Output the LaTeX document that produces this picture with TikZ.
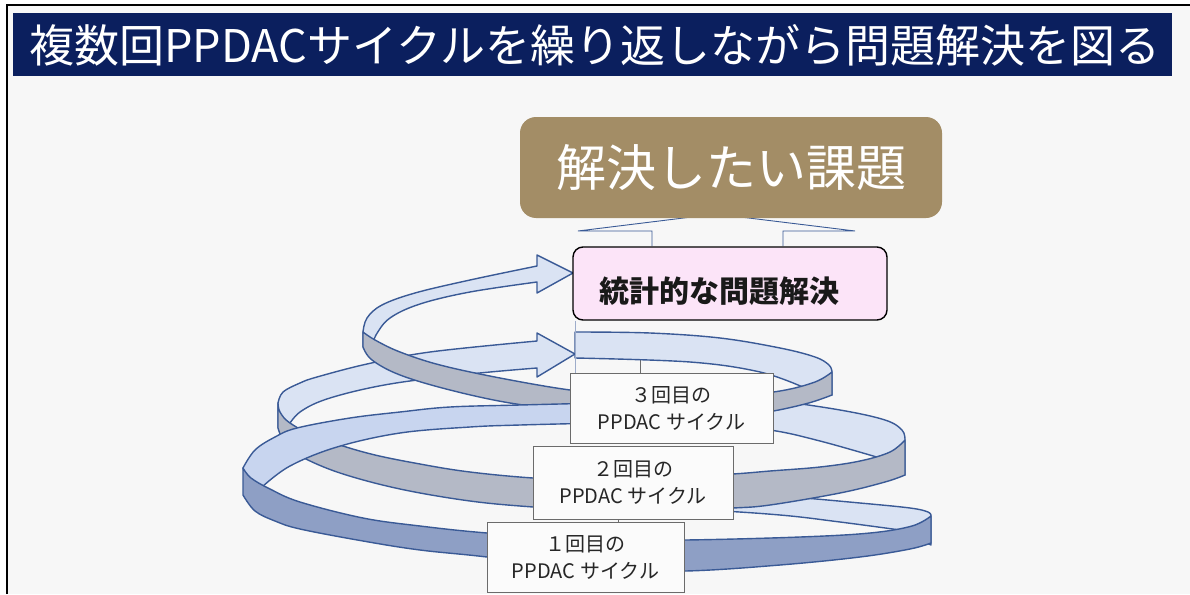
\documentclass[tikz,border=0pt]{standalone}
\usepackage{fontspec}
\newfontfamily\jp{Noto Sans CJK JP}
\definecolor{bg}{HTML}{F7F7F7}
\definecolor{navy}{HTML}{0B1F5E}
\definecolor{khaki}{HTML}{A38D66}
\definecolor{pinkf}{HTML}{FCE4F8}
\definecolor{bandlight}{HTML}{DAE3F3}
\definecolor{bandlightA}{HTML}{C8D5EF}
\definecolor{wall}{HTML}{B4B9C6}
\definecolor{wallA}{HTML}{8E9FC5}
\definecolor{edge}{HTML}{3A5A96}
\definecolor{lblgray}{HTML}{6B6B6B}
\tikzset{
  back/.style={fill=bandlight, draw=edge, line width=1.4pt, line join=round},
  backA/.style={fill=bandlightA, draw=edge, line width=1.4pt, line join=round},
  front/.style={fill=wall, draw=edge, line width=1.4pt, line join=round},
  frontA/.style={fill=wallA, draw=edge, line width=1.4pt, line join=round},
  lbl/.style={draw=lblgray, fill=white!97!gray, line width=1pt, inner sep=0pt, align=center, text=black!85,
    font=\jp\fontsize{20}{27}\selectfont},
  sm/.style={smooth, tension=0.6}
}
\begin{document}
\begin{tikzpicture}[x=1pt,y=-1pt]
\useasboundingbox (0,0) rectangle (1190,594);
\fill[white] (0,0) rectangle (1190,594);
\fill[bg] (7,5) rectangle (1190,594);
\draw[black, line width=1.6pt] (7,594) -- (7,5) -- (1190,5);

% title
\node[fill=navy, minimum width=1159pt, minimum height=63pt, inner sep=0pt] (title) at (592.5,44.5) {};
\node[anchor=west, text=white, font=\jp\fontsize{45}{52}\selectfont, inner sep=0pt] (titletxt) at (29,45) {複数回PPDACサイクルを繰り返しながら問題解決を図る};

\path (730,283.5) coordinate (pinkc);
\coordinate (xl) at (575,0);
\coordinate (xt) at (618,0);

% hollow up arrow from pink box to goal
\filldraw[fill=bg, draw=edge, line width=0.9pt, line join=miter]
  (652,246) -- (652,231) -- (578,231) -- (716,214) -- (855,231) -- (783,231) -- (783,246);
\node[fill=khaki, rounded corners=16pt, minimum width=422pt, minimum height=101pt, inner sep=0pt,
      text=white, font=\jp\fontsize{50}{56}\selectfont] (goal) at (731,167.5) {解決したい課題};

% hidden connector stub below box 3 top
\coordinate (stub) at (640,350);
\draw[lblgray, line width=0.8pt] (stub) -- (640,373);

% ---------- ribbons ----------
% R1 back right
\filldraw[back] (600,486) -- plot[sm] coordinates {(600,486) (700,491) (780,496) (860,503) (910,508) (928,512) (931,516)} -- (931,545)
  -- plot[sm] coordinates {(900,530) (840,522) (780,515) (700,510) (600,508)} -- cycle;
% R2 back right
\filldraw[back] (640,390) -- plot[sm] coordinates {(640,390) (700,394) (770,400) (840,410) (885,420) (902,430) (905,440)} -- (905,475)
  -- plot[sm] coordinates {(880,458) (820,441) (770,430) (700,423) (640,420)} -- cycle;
% R3 back right
\filldraw[back] plot[sm] coordinates {(575,332) (650,333) (720,338) (780,348) (815,357) (829,365) (832,372)} -- (832,395)
  -- plot[sm] coordinates {(805,388) (760,372) (690,362) (575,358)} -- cycle;
% R3 back left + arrow
\filldraw[back] (363,347) -- plot[sm] coordinates {(363,332) (367,318) (382,305) (415,293) (470,280) (537,266)}
  -- (537,255) -- (573,273) -- (537,293)
  -- plot[sm] coordinates {(537,282) (470,292) (420,304) (390,318) (376,335) (372,347)} -- cycle;
% R2 back left + arrow
\filldraw[back] (278,428) -- plot[sm] coordinates {(278,403) (283,392) (300,383) (317,377) (367,364) (430,352) (537,341)}
  -- (537,333) -- (575,354) -- (537,377)
  -- plot[sm] coordinates {(537,368) (470,374) (390,384) (330,398) (300,412) (287,428)} -- cycle;
% R3 front
\filldraw[front] plot[sm] coordinates {(832,372) (815,382) (780,391) (730,396) (680,397) (620,394) (570,390) (500,378) (440,365) (400,352) (375,340) (363,332)}
  -- plot[sm] coordinates {(363,347) (372,360) (400,375) (450,390) (510,403) (570,410) (640,416) (700,417) (760,413) (805,404) (832,395)} -- cycle;
% R2 front
\filldraw[front] plot[sm] coordinates {(905,440) (890,452) (860,461) (820,467) (770,471) (733,474) (650,479) (590,480) (533,478) (470,472) (420,464) (367,453) (317,437) (290,423) (280,412) (278,403)}
  -- plot[sm] coordinates {(278,428) (285,444) (300,456) (340,473) (400,489) (470,501) (533,507) (600,511) (680,510) (733,508) (770,505) (840,493) (885,482) (905,475)} -- cycle;
% R1 back left
\filldraw[backA] (250,492) -- plot[sm] coordinates {(243,468) (255,450) (275,437) (297,428) (350,418) (400,412) (450,407) (520,405) (600,403)}
  -- plot[sm] coordinates {(600,423) (520,425) (470,427) (400,433) (337,447) (290,466) (262,487)} -- cycle;
% R1 front
\filldraw[frontA] plot[sm] coordinates {(931,516) (912,526) (870,533) (800,537) (686,540) (590,540) (487,533) (420,526) (363,518) (300,502) (270,489) (251,478) (243,468)}
  -- plot[sm] coordinates {(243,495) (255,511) (275,521) (300,529) (363,541) (420,550) (487,557) (590,570) (686,571) (780,565) (860,557) (910,549) (931,543)} -- cycle;

% ---------- boxes ----------
\node[draw=black, line width=1.4pt, fill=pinkf, rounded corners=10pt, minimum width=314pt, minimum height=73pt, inner sep=0pt] (pink) at (pinkc) {};
\node[font=\jp\bfseries\fontsize{30}{36}\selectfont, text=black!90, inner sep=0pt] (pinktxt) at (719,291) {統計的な問題解決};

\node[lbl, minimum width=203pt, minimum height=70pt] (b3) at (671.5,408) {３回目の\\PPDAC サイクル};
\node[lbl, minimum width=200pt, minimum height=73pt] (b2) at (633,482.5) {２回目の\\PPDAC サイクル};
\node[lbl, minimum width=197pt, minimum height=70pt] (b1) at (585.5,557) {１回目の\\PPDAC サイクル};

% connectors
\draw[edge!50, line width=0.8pt] (xl |- pink.south) -- (xl |- b3.north);
\draw[lblgray, line width=0.8pt] (xt |- b2.south) -- (xt |- b1.north);
\end{tikzpicture}
\end{document}
